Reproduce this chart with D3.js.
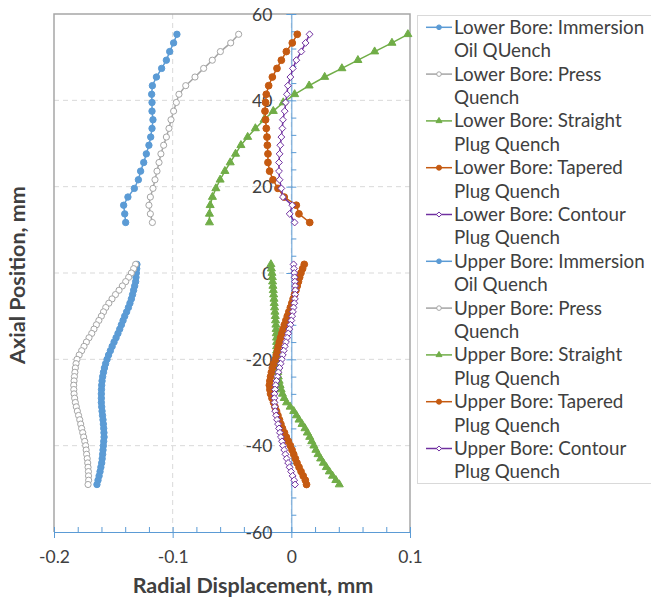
<!DOCTYPE html>
<html>
<head>
<meta charset="utf-8">
<script src="https://cdn.jsdelivr.net/npm/d3@7"></script>
<style>
  body { margin: 0; background: #fff; }
  text { font-family: Lato, "Open Sans", sans-serif; fill: #404040; }
</style>
</head>
<body>
<svg width="651" height="600"></svg>
<script>
// axial positions (mm)
const lowerY = [11.7, 13.7, 15.7, 17.6, 19.6, 21.6, 23.6, 25.6, 27.6, 29.6,
  31.5, 33.5, 35.5, 37.5, 39.5, 41.4, 43.4, 45.4, 47.4, 49.3, 51.3, 53.3, 55.3];
const upperY = [2, 1, 0, -1, -2, -3, -4, -5, -6, -7,
  -8, -9, -10, -11, -12, -13, -14, -15, -16, -17,
  -18, -19, -20, -21, -22, -23, -24, -25, -26, -27,
  -28, -29, -30, -31, -32, -33, -34, -35, -36, -37,
  -38, -39, -40, -41, -42, -43, -44, -45, -46, -47,
  -48, -49];

// radial displacement (mm), lower bore
const lowerImmersion = [-0.1396, -0.1404, -0.1413, -0.1377, -0.1323, -0.1289, -0.1270, -0.1244, -0.1222, -0.1200,
  -0.1185, -0.1174, -0.1166, -0.1174, -0.1174, -0.1177, -0.1171, -0.1137, -0.1093, -0.1053, -0.1025, -0.0992, -0.0964];
const lowerPress = [-0.1171, -0.1188, -0.1200, -0.1188, -0.1166, -0.1149, -0.1132, -0.1115, -0.1099, -0.1076,
  -0.1053, -0.1031, -0.1014, -0.0992, -0.0969, -0.0947, -0.0890, -0.0812, -0.0739, -0.0666, -0.0598, -0.0511, -0.0444];
const lowerStraight = [-0.0690, -0.0690, -0.0684, -0.0665, -0.0636, -0.0600, -0.0560, -0.0515, -0.0470, -0.0425,
  -0.0368, -0.0303, -0.0230, -0.0152, -0.0068, 0.0028, 0.0150, 0.0281, 0.0426, 0.0561, 0.0702, 0.0848, 0.0982];
const lowerTapered = [0.0155, 0.0064, 0.0042, -0.0060, -0.0113, -0.0155, -0.0183, -0.0197, -0.0197, -0.0202,
  -0.0205, -0.0211, -0.0217, -0.0222, -0.0217, -0.0211, -0.0191, -0.0160, -0.0121, -0.0084, -0.0042, 0.0008, 0.0050];
const lowerContour = [0.0028, -0.0014, 0.0008, -0.0071, -0.0084, -0.0099, -0.0104, -0.0104, -0.0099, -0.0093,
  -0.0084, -0.0076, -0.0071, -0.0056, -0.0048, -0.0037, -0.0029, -0.0008, 0.0013, 0.0042, 0.0084, 0.0120, 0.0154];

// radial displacement (mm), upper bore
const upperImmersion = [-0.1301, -0.1303, -0.1306, -0.1309, -0.1312, -0.1320, -0.1329, -0.1338, -0.1348, -0.1360,
  -0.1373, -0.1388, -0.1404, -0.1418, -0.1432, -0.1446, -0.1461, -0.1477, -0.1494, -0.1510,
  -0.1525, -0.1540, -0.1553, -0.1565, -0.1575, -0.1583, -0.1590, -0.1595, -0.1598, -0.1600,
  -0.1601, -0.1601, -0.1601, -0.1598, -0.1595, -0.1591, -0.1587, -0.1584, -0.1581, -0.1579,
  -0.1578, -0.1581, -0.1584, -0.1587, -0.1590, -0.1594, -0.1598, -0.1605, -0.1612, -0.1620,
  -0.1629, -0.1638];
const upperPress = [-0.1312, -0.1329, -0.1348, -0.1371, -0.1396, -0.1424, -0.1452, -0.1482, -0.1511, -0.1538,
  -0.1564, -0.1583, -0.1601, -0.1622, -0.1643, -0.1663, -0.1682, -0.1705, -0.1727, -0.1747,
  -0.1767, -0.1788, -0.1806, -0.1814, -0.1820, -0.1824, -0.1828, -0.1831, -0.1834, -0.1833,
  -0.1831, -0.1826, -0.1820, -0.1812, -0.1803, -0.1793, -0.1783, -0.1775, -0.1767, -0.1758,
  -0.1750, -0.1741, -0.1733, -0.1729, -0.1725, -0.1720, -0.1716, -0.1713, -0.1710, -0.1709,
  -0.1708, -0.1713];
const upperStraight = [-0.0172, -0.0168, -0.0163, -0.0160, -0.0158, -0.0155, -0.0152, -0.0149, -0.0146, -0.0144,
  -0.0141, -0.0138, -0.0135, -0.0133, -0.0130, -0.0128, -0.0127, -0.0125, -0.0124, -0.0124,
  -0.0124, -0.0124, -0.0124, -0.0121, -0.0118, -0.0114, -0.0110, -0.0103, -0.0095, -0.0086,
  -0.0075, -0.0060, -0.0040, -0.0010, 0.0020, 0.0043, 0.0065, 0.0090, 0.0115, 0.0135,
  0.0155, 0.0172, 0.0190, 0.0207, 0.0225, 0.0247, 0.0270, 0.0295, 0.0320, 0.0347,
  0.0375, 0.0404];
const upperTapered = [0.0109, 0.0095, 0.0081, 0.0070, 0.0060, 0.0050, 0.0039, 0.0027, 0.0015, 0.0004,
  -0.0008, -0.0021, -0.0034, -0.0046, -0.0059, -0.0070, -0.0080, -0.0091, -0.0101, -0.0110,
  -0.0118, -0.0127, -0.0135, -0.0148, -0.0160, -0.0168, -0.0175, -0.0181, -0.0185, -0.0181,
  -0.0175, -0.0163, -0.0150, -0.0138, -0.0125, -0.0113, -0.0100, -0.0088, -0.0075, -0.0058,
  -0.0042, -0.0025, -0.0008, 0.0006, 0.0020, 0.0034, 0.0048, 0.0065, 0.0082, 0.0100,
  0.0118, 0.0128];
const upperContour = [0.0019, 0.0022, 0.0025, 0.0028, 0.0030, 0.0032, 0.0034, 0.0032, 0.0030, 0.0025,
  0.0019, 0.0013, 0.0007, 0.0000, -0.0008, -0.0017, -0.0026, -0.0035, -0.0045, -0.0055,
  -0.0064, -0.0072, -0.0080, -0.0090, -0.0100, -0.0109, -0.0117, -0.0125, -0.0132, -0.0137,
  -0.0142, -0.0143, -0.0142, -0.0139, -0.0136, -0.0128, -0.0120, -0.0112, -0.0104, -0.0096,
  -0.0088, -0.0079, -0.0070, -0.0060, -0.0050, -0.0039, -0.0027, -0.0015, -0.0002, 0.0011,
  0.0024, 0.0031];

const seriesNames = [
  ["Lower Bore: Immersion", "Oil QUench"],
  ["Lower Bore: Press", "Quench"],
  ["Lower Bore: Straight", "Plug Quench"],
  ["Lower Bore: Tapered", "Plug Quench"],
  ["Lower Bore: Contour", "Plug Quench"],
  ["Upper Bore: Immersion", "Oil Quench"],
  ["Upper Bore: Press", "Quench"],
  ["Upper Bore: Straight", "Plug Quench"],
  ["Upper Bore: Tapered", "Plug Quench"],
  ["Upper Bore: Contour", "Plug Quench"]
];
const xTicks = [-0.2, -0.1, 0, 0.1];
const yTicks = [-60, -40, -20, 0, 20, 40, 60];

// marker styles per quench type
const styles = [
  {color: "#5b9bd5", symbol: d3.symbolCircle, size: 32, hollow: false},
  {color: "#a5a5a5", symbol: d3.symbolCircle, size: 30, hollow: true},
  {color: "#70ad47", symbol: d3.symbolTriangle, size: 28, hollow: false},
  {color: "#c55a11", symbol: d3.symbolCircle, size: 36, hollow: false},
  {color: "#7030a0", symbol: d3.symbolDiamond2 || d3.symbolDiamond, size: 30, hollow: true}
];
const lowerSets = [lowerImmersion, lowerPress, lowerStraight, lowerTapered, lowerContour];
const upperSets = [upperImmersion, upperPress, upperStraight, upperTapered, upperContour];
const series = [];
lowerSets.forEach((xs, i) => series.push({name: seriesNames[i], style: styles[i], pts: xs.map((v, j) => [v, lowerY[j]])}));
upperSets.forEach((xs, i) => series.push({name: seriesNames[i + 5], style: styles[i], pts: xs.map((v, j) => [v, upperY[j]])}));

const svg = d3.select("svg");
const x = d3.scaleLinear().domain([-0.2, 0.1]).range([54, 410]);
const y = d3.scaleLinear().domain([-60, 60]).range([532, 14]);
const [x0, x1] = x.range();
const [yb, yt] = y.range();

// gridlines
svg.append("g").selectAll("line")
  .data(yTicks.slice(1, -1)).join("line")
  .attr("x1", x0).attr("x2", x1).attr("y1", d => y(d)).attr("y2", d => y(d))
  .attr("stroke", "#d9d9d9").attr("stroke-dasharray", "5,4");
svg.append("g").selectAll("line")
  .data(xTicks.slice(1, -1)).join("line")
  .attr("y1", yt).attr("y2", yb).attr("x1", d => x(d)).attr("x2", d => x(d))
  .attr("stroke", "#d9d9d9").attr("stroke-dasharray", "5,4");

// plot area border
svg.append("path")
  .attr("d", `M${x0},${yb}V${yt}H${x1}V${yb}`)
  .attr("fill", "none").attr("stroke", "#a6a6a6").attr("stroke-width", 1.5);

const axisColor = "#5b9bd5";

// x minor ticks
const xMinor = d3.range(-0.2, 0.1001, 0.02).filter(v => Math.abs(v * 10 - Math.round(v * 10)) > 1e-6);
svg.append("g").attr("transform", `translate(0,${yb})`)
  .call(d3.axisTop(x).tickValues(xMinor).tickSize(5).tickSizeOuter(0).tickFormat(""))
  .call(g => g.select(".domain").remove())
  .call(g => g.selectAll("line").attr("stroke", axisColor));

// x axis
svg.append("g").attr("transform", `translate(0,${yb})`)
  .call(d3.axisBottom(x).tickValues(xTicks).tickSize(6).tickSizeOuter(0).tickFormat(d => String(d)))
  .call(g => g.select(".domain").attr("stroke", axisColor))
  .call(g => g.selectAll(".tick line").attr("y1", -5).attr("stroke", axisColor))
  .call(g => g.selectAll(".tick text").attr("y", 25).attr("dy", "0.35em")
    .attr("font-size", 17.5).attr("font-family", null).attr("fill", "#404040"));

// y minor ticks
const yMinor = d3.range(-56, 60, 4).filter(v => v % 20 !== 0);
svg.append("g").attr("transform", `translate(${x(0)},0)`)
  .call(d3.axisRight(y).tickValues(yMinor).tickSize(5).tickSizeOuter(0).tickFormat(""))
  .call(g => g.select(".domain").remove())
  .call(g => g.selectAll("line").attr("stroke", axisColor));

// y axis
svg.append("g").attr("transform", `translate(${x(0)},0)`)
  .call(d3.axisLeft(y).tickValues(yTicks).tickSize(5).tickSizeOuter(0).tickFormat(d => String(d)))
  .call(g => g.select(".domain").attr("stroke", axisColor))
  .call(g => g.selectAll(".tick line").attr("x2", -5).attr("x1", 5).attr("stroke", axisColor))
  .call(g => g.selectAll(".tick text").attr("x", -19).attr("dy", "0.35em")
    .attr("font-size", 17.5).attr("font-family", null).attr("fill", "#404040"));

// series
const line = d3.line().x(d => x(d[0])).y(d => y(d[1]));
series.forEach(s => {
  const g = svg.append("g");
  g.append("path").attr("d", line(s.pts))
    .attr("fill", "none").attr("stroke", s.style.color).attr("stroke-width", 1.5);
  g.selectAll("path.m").data(s.pts).join("path").attr("class", "m")
    .attr("transform", d => `translate(${x(d[0])},${y(d[1])})`)
    .attr("d", d3.symbol(s.style.symbol, s.style.size))
    .attr("fill", s.style.hollow ? "#fff" : s.style.color)
    .attr("stroke", s.style.color).attr("stroke-width", 1);
});

// axis titles
svg.append("text").attr("x", 253).attr("y", 593).attr("text-anchor", "middle")
  .attr("font-size", 21.5).attr("font-weight", "bold").text("Radial Displacement, mm");
svg.append("text").attr("transform", "translate(25,275) rotate(-90)").attr("text-anchor", "middle")
  .attr("font-size", 21.5).attr("font-weight", "bold").text("Axial Position, mm");

// legend
const lg = svg.append("g");
lg.append("rect").attr("x", 417.5).attr("y", 15.5).attr("width", 240).attr("height", 468)
  .attr("fill", "#fff").attr("stroke", "#d9d9d9");
const item = lg.selectAll("g.item").data(series).join("g").attr("class", "item")
  .attr("transform", (d, i) => `translate(426,${27.3 + i * 46.8})`);
item.append("line").attr("x1", 0).attr("x2", 26).attr("stroke", d => d.style.color).attr("stroke-width", 1.5);
item.append("path").attr("transform", "translate(13,0)")
  .attr("d", d => d3.symbol(d.style.symbol, d.style.size * 0.55)())
  .attr("fill", d => d.style.hollow ? "#fff" : d.style.color)
  .attr("stroke", d => d.style.color).attr("stroke-width", 1);
item.selectAll("text").data(d => d.name).join("text")
  .attr("x", 28).attr("y", (d, i) => i * 23.4).attr("dy", "0.35em")
  .attr("font-size", 18.8).text(d => d);
</script>
</body>
</html>
